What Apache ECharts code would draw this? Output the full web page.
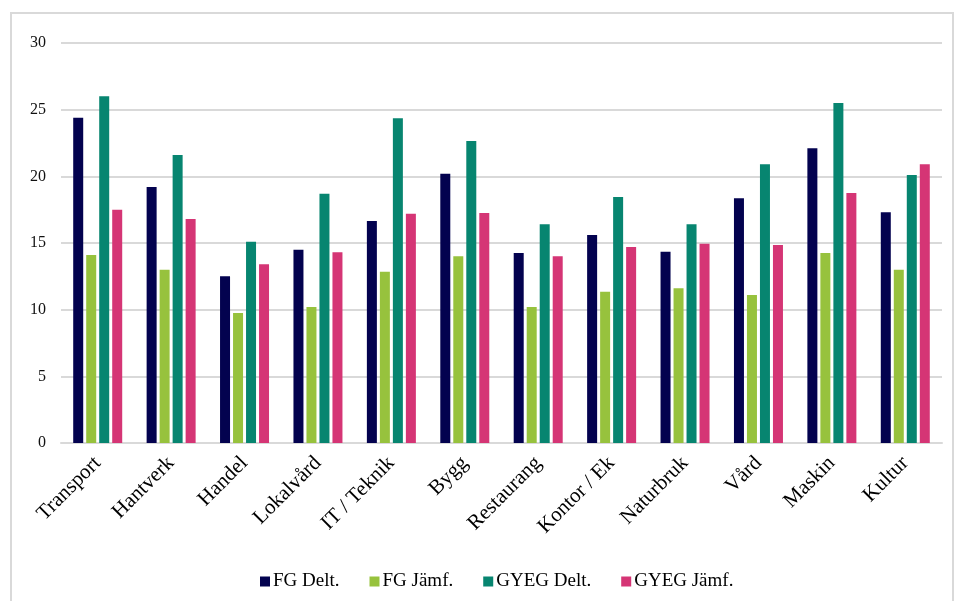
<!DOCTYPE html>
<html><head><meta charset="utf-8">
<script src="https://cdn.jsdelivr.net/npm/echarts@6/dist/echarts.min.js"></script>
<style>html,body{margin:0;padding:0;background:#fff}#c{width:956px;height:601px}</style>
</head><body><div id="c"></div>
<script>
const categories = ["Transport","Hantverk","Handel","Lokalvård","IT / Teknik","Bygg","Restaurang","Kontor / Ek","Naturbruk","Vård","Maskin","Kultur"];
const fgDelt  = [24.4, 19.2, 12.5, 14.5, 16.65, 20.2, 14.25, 15.6, 14.35, 18.35, 22.1, 17.3];
const fgJamf  = [14.1, 13.0, 9.75, 10.2, 12.85, 14.0, 10.2, 11.35, 11.6, 11.1, 14.25, 13.0];
const gyegDelt= [26.0, 21.6, 15.1, 18.7, 24.35, 22.65, 16.4, 18.45, 16.4, 20.9, 25.5, 20.1];
const gyegJamf= [17.5, 16.8, 13.4, 14.3, 17.2, 17.25, 14.0, 14.7, 14.95, 14.85, 18.75, 20.9];
const seriesNames = ["FG Delt.","FG Jämf.","GYEG Delt.","GYEG Jämf."];
const colors = ["#03024f","#97c23d","#078570","#d53575"];
const yTicks = {min:0, max:30, interval:5};

const chart = echarts.init(document.getElementById('c'), null, {renderer:'canvas'});
const font = "'Liberation Serif', 'DejaVu Serif', serif";
const data = [fgDelt, fgJamf, gyegDelt, gyegJamf];
chart.setOption({
  animation:false,
  textStyle:{fontFamily:font},
  graphic:[{type:'rect', shape:{x:11,y:13,width:942,height:600}, style:{fill:'none', stroke:'#d9d9d9', lineWidth:2}, silent:true}],
  grid:{left:61, right:14, top:43, bottom:158, containLabel:false},
  legend:{top:567, left:255, itemWidth:10, itemHeight:10, itemGap:30, icon:'rect',
    textStyle:{fontFamily:font, fontSize:19, color:'#000', padding:[0,0,0,-2]}, data:seriesNames},
  xAxis:{type:'category', data:categories,
    axisLine:{lineStyle:{color:'#d9d9d9', width:2}}, axisTick:{show:false},
    axisLabel:{rotate:45, interval:0, fontFamily:font, fontSize:21, color:'#000', margin:17}},
  yAxis:{type:'value', min:yTicks.min, max:yTicks.max, interval:yTicks.interval,
    axisLine:{show:false}, axisTick:{show:false},
    splitLine:{lineStyle:{color:'#d9d9d9', width:2}},
    axisLabel:{fontFamily:font, fontSize:16, color:'#111', margin:15}},
  series: seriesNames.map((n,i)=>({name:n, type:'bar', data:data[i], barWidth:10, barGap:'30%',
    itemStyle:{color:colors[i]}}))
});
</script></body></html>
